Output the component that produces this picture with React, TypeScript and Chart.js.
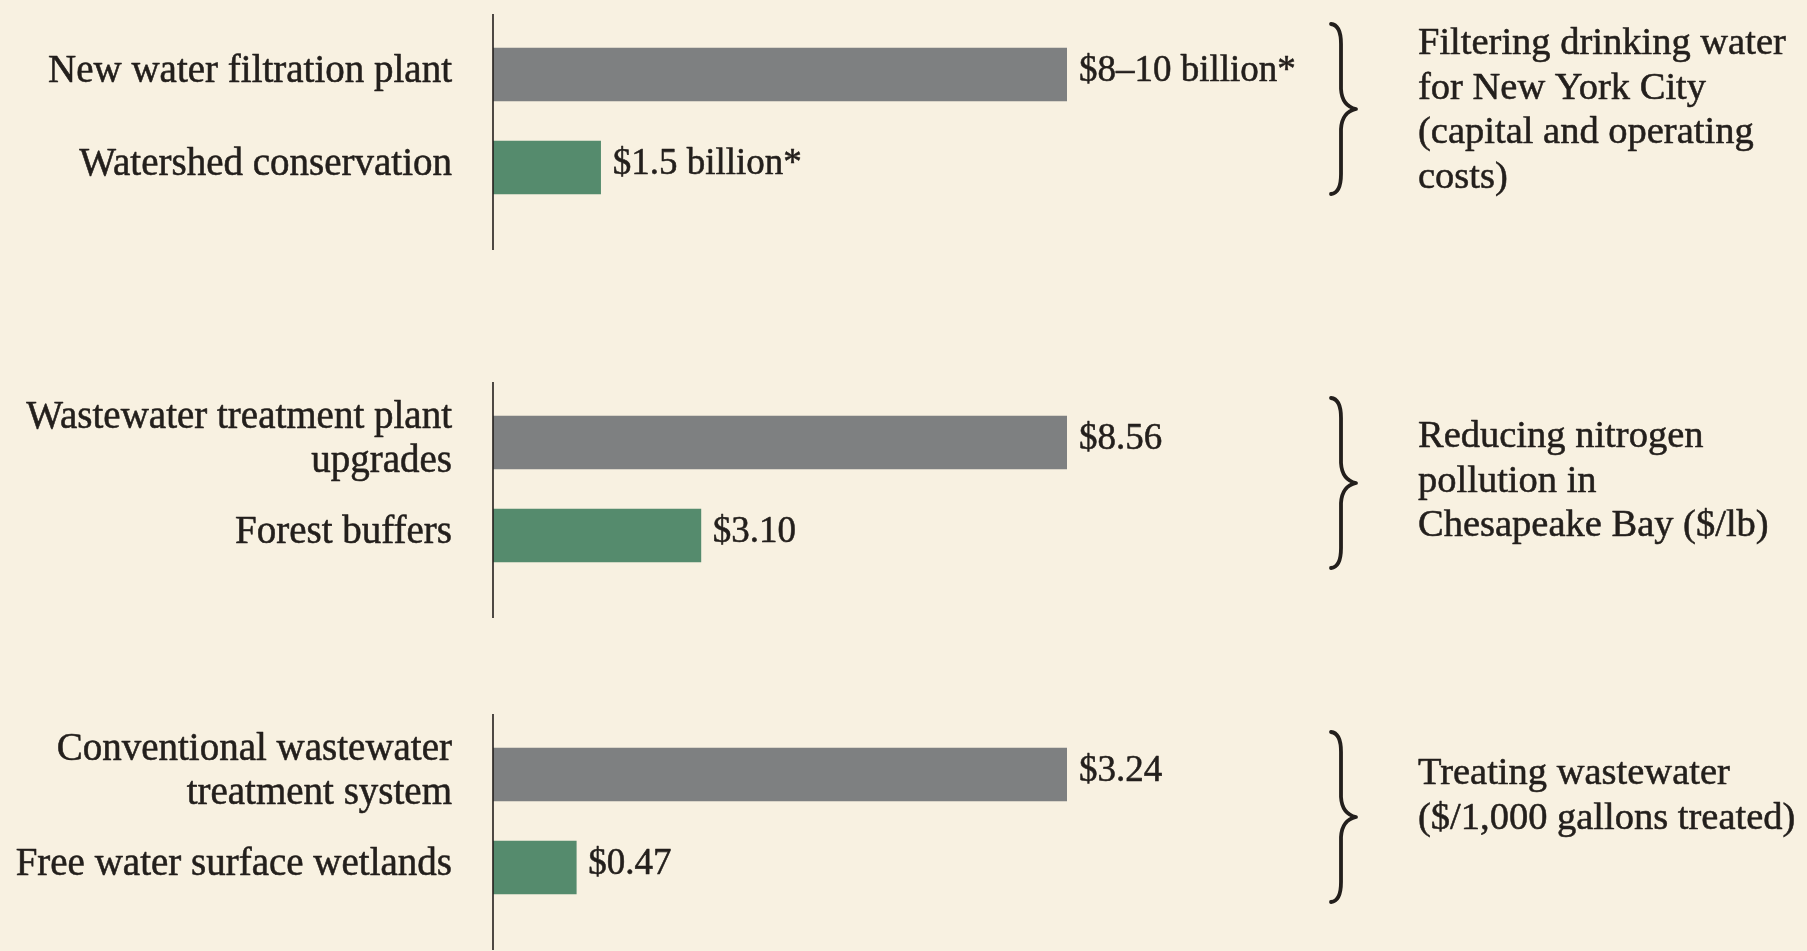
import React, { useEffect, useRef } from "react";
import { Chart, registerables } from "chart.js";

Chart.register(...registerables);

// ---------- data ----------
const filteringCategories = [["New water filtration plant"], ["Watershed conservation"]];
const filteringValues = [8, 1.5];
const filteringValueLabels = ["$8–10 billion*", "$1.5 billion*"];
const filteringNotes = ["Filtering drinking water", "for New York City", "(capital and operating", "costs)"];

const nitrogenCategories = [["Wastewater treatment plant", "upgrades"], ["Forest buffers"]];
const nitrogenValues = [8.56, 3.1];
const nitrogenValueLabels = ["$8.56", "$3.10"];
const nitrogenNotes = ["Reducing nitrogen", "pollution in", "Chesapeake Bay ($/lb)"];

const wastewaterCategories = [["Conventional wastewater", "treatment system"], ["Free water surface wetlands"]];
const wastewaterValues = [3.24, 0.47];
const wastewaterValueLabels = ["$3.24", "$0.47"];
const wastewaterNotes = ["Treating wastewater", "($/1,000 gallons treated)"];

// ---------- style / layout ----------
const BG = "#F8F1E1";
const GRAY = "#7E8081";
const GREEN = "#558B6D";
const INK = "#231F1C";
const LABEL_FONT = '39px "Liberation Serif", serif';
const VALUE_FONT = '37px "Liberation Serif", serif';
const NOTE_FONT = '38.5px "Liberation Serif", serif';
const W = 1807;
const PAD_TOP = 27;
const AREA_H = 186;
const PAD_BOTTOM = 40;
const CANVAS_H = PAD_TOP + AREA_H + PAD_BOTTOM;
const AXIS_X = 493;
const BAR_END_X = 1067;
const NOTE_X = 1418;

const panels = [
  { categories: filteringCategories, values: filteringValues, valueLabels: filteringValueLabels, notes: filteringNotes, top: 1, braceShift: -12, noteFirst: -67 },
  { categories: nitrogenCategories, values: nitrogenValues, valueLabels: nitrogenValueLabels, notes: nitrogenNotes, top: 369, braceShift: -6, noteFirst: -42 },
  { categories: wastewaterCategories, values: wastewaterValues, valueLabels: wastewaterValueLabels, notes: wastewaterNotes, top: 701, braceShift: -4, noteFirst: -37 },
];

function drawBrace(ctx: CanvasRenderingContext2D, yTop: number, yBot: number, ym: number) {
  const xe = 1331, xs = 1341, xt = 1356;
  ctx.save();
  ctx.strokeStyle = INK;
  ctx.lineCap = "round";
  ctx.lineJoin = "round";
  ctx.lineWidth = 3.8;
  ctx.beginPath();
  ctx.moveTo(xe, yTop);
  ctx.quadraticCurveTo(xs, yTop + 1, xs, yTop + 20);
  ctx.lineTo(xs, ym - 20);
  ctx.quadraticCurveTo(xs + 1, ym - 3, xt, ym);
  ctx.quadraticCurveTo(xs + 1, ym + 3, xs, ym + 20);
  ctx.lineTo(xs, yBot - 20);
  ctx.quadraticCurveTo(xs, yBot - 1, xe, yBot);
  ctx.stroke();
  ctx.restore();
}

function inkText(ctx: CanvasRenderingContext2D, s: string, x: number, y: number) {
  ctx.fillText(s, x, y);
  ctx.strokeText(s, x, y);
}

function Panel(props: any) {
  const { categories, values, valueLabels, notes, top, braceShift, noteFirst } = props;
  const ref = useRef<HTMLCanvasElement | null>(null);

  useEffect(() => {
    let chart: Chart | null = null;
    let cancelled = false;
    const build = () => {
      if (cancelled || !ref.current) return;
      const overlay = {
        id: "panelOverlay",
        afterDraw(c: any) {
          const ctx: CanvasRenderingContext2D = c.ctx;
          const area = c.chartArea;
          const yScale = c.scales.y;
          ctx.save();
          // axis line
          ctx.strokeStyle = INK;
          ctx.lineWidth = 1.6;
          ctx.beginPath();
          ctx.moveTo(area.left, area.top - 14);
          ctx.lineTo(area.left, area.bottom + 36);
          ctx.stroke();
          // text style
          ctx.fillStyle = INK;
          ctx.strokeStyle = INK;
          ctx.lineWidth = 0.55;
          ctx.lineJoin = "round";
          ctx.textBaseline = "alphabetic";
          // category labels
          ctx.font = LABEL_FONT;
          ctx.textAlign = "right";
          (c.data.labels as string[][]).forEach((lines, i) => {
            const cy = yScale.getPixelForValue(i);
            lines.forEach((ln, j) => {
              inkText(ctx, ln, area.left - 41, cy + 7 + (j - (lines.length - 1) / 2) * 44);
            });
          });
          // value labels
          ctx.font = VALUE_FONT;
          ctx.textAlign = "left";
          const meta = c.getDatasetMeta(0);
          meta.data.forEach((bar: any, i: number) => {
            inkText(ctx, valueLabels[i], bar.x + 12, bar.y + 6);
          });
          // brace
          const mid = (area.top + area.bottom) / 2;
          const bm = mid + braceShift;
          drawBrace(ctx, bm - 85, bm + 85, bm);
          // notes
          ctx.font = NOTE_FONT;
          ctx.textAlign = "left";
          notes.forEach((ln: string, j: number) => {
            inkText(ctx, ln, NOTE_X, mid + noteFirst + j * 44.6);
          });
          ctx.restore();
        },
      };
      chart = new Chart(ref.current, {
        type: "bar",
        data: {
          labels: categories,
          datasets: [
            {
              data: values,
              backgroundColor: [GRAY, GREEN],
              borderWidth: 0,
              barThickness: 53,
              categoryPercentage: 1,
            },
          ],
        },
        options: {
          indexAxis: "y",
          responsive: false,
          animation: false,
          events: [],
          layout: { padding: { left: AXIS_X, right: W - BAR_END_X, top: PAD_TOP, bottom: PAD_BOTTOM } },
          scales: {
            x: { type: "linear", min: 0, max: Math.max(...values), display: false, grid: { display: false } },
            y: { type: "category", display: false, grid: { display: false }, offset: true },
          },
          plugins: { legend: { display: false }, tooltip: { enabled: false }, title: { display: false } },
        },
        plugins: [overlay],
      } as any);
    };
    const fonts: any = (document as any).fonts;
    if (fonts && fonts.load) {
      fonts.load(LABEL_FONT).then(build, build);
    } else {
      build();
    }
    return () => {
      cancelled = true;
      if (chart) chart.destroy();
    };
  }, []);

  return (
    <canvas
      ref={ref}
      width={W}
      height={CANVAS_H}
      style={{ position: "absolute", left: 0, top, width: W, height: CANVAS_H, display: "block" }}
    />
  );
}

export default function App() {
  useEffect(() => {
    document.body.style.margin = "0";
    document.body.style.background = BG;
    document.body.style.overflow = "hidden";
  }, []);
  return (
    <div style={{ position: "relative", width: W, height: 951, overflow: "hidden", background: BG }}>
      {panels.map((p, i) => (
        <Panel key={i} {...p} />
      ))}
    </div>
  );
}
